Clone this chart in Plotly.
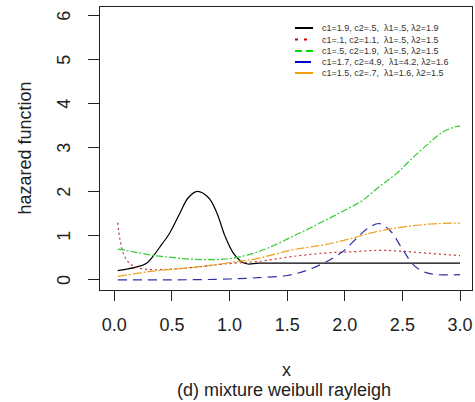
import plotly.graph_objects as go

# ---- data: hazard function of the mixture Weibull-Rayleigh model ----
x_black = [0.03, 0.1, 0.19, 0.28, 0.34, 0.41, 0.48, 0.57, 0.64, 0.72, 0.82, 0.89,
           0.96, 1.03, 1.1, 1.16, 1.25, 1.5, 2.0, 2.5, 3.0]
y_black = [0.21, 0.24, 0.29, 0.38, 0.55, 0.8, 1.06, 1.52, 1.86, 2.01, 1.86, 1.52,
           1.0, 0.62, 0.42, 0.36, 0.38, 0.38, 0.38, 0.38, 0.38]

x_red = [0.03, 0.05, 0.09, 0.16, 0.28, 0.48, 0.71, 0.95, 1.25, 1.54, 1.83, 2.07,
         2.3, 2.5, 2.75, 3.0]
y_red = [1.3, 0.91, 0.53, 0.32, 0.24, 0.24, 0.29, 0.36, 0.42, 0.53, 0.61, 0.64,
         0.67, 0.65, 0.6, 0.55]

x_green = [0.03, 0.1, 0.2, 0.35, 0.5, 0.65, 0.8, 0.95, 1.1, 1.25, 1.4, 1.55, 1.7,
           1.85, 2.0, 2.15, 2.3, 2.45, 2.6, 2.75, 2.85, 2.95, 3.0]
y_green = [0.7, 0.67, 0.62, 0.55, 0.51, 0.47, 0.46, 0.47, 0.53, 0.64, 0.8, 0.99, 1.18,
           1.38, 1.58, 1.8, 2.12, 2.42, 2.8, 3.15, 3.36, 3.47, 3.5]

x_blue = [0.03, 0.5, 1.0, 1.25, 1.5, 1.65, 1.8, 1.9, 2.0, 2.1, 2.2, 2.3, 2.4, 2.5,
          2.6, 2.7, 2.8, 3.0]
y_blue = [0.0, 0.0, 0.02, 0.05, 0.1, 0.2, 0.36, 0.5, 0.68, 0.94, 1.17, 1.28, 1.1, 0.7,
          0.33, 0.17, 0.12, 0.12]

x_orange = [0.03, 0.34, 0.71, 1.08, 1.25, 1.54, 1.83, 2.07, 2.25, 2.5, 2.75, 3.0]
y_orange = [0.08, 0.2, 0.29, 0.42, 0.49, 0.68, 0.8, 0.95, 1.08, 1.2, 1.27, 1.29]

legend_labels = [
    "c1=1.9, c2=.5,  λ1=.5, λ2=1.9",
    "c1=.1, c2=1.1,  λ1=.5, λ2=1.5",
    "c1=.5, c2=1.9,  λ1=.5, λ2=1.5",
    "c1=1.7, c2=4.9,  λ1=4.2, λ2=1.6",
    "c1=1.5, c2=.7,  λ1=1.6, λ2=1.5",
]

x_ticks = [0.0, 0.5, 1.0, 1.5, 2.0, 2.5, 3.0]
x_tick_text = ["0.0", "0.5", "1.0", "1.5", "2.0", "2.5", "3.0"]
y_ticks = [0, 1, 2, 3, 4, 5, 6]
y_tick_text = ["0", "1", "2", "3", "4", "5", "6"]

# ---- styles ----
series = [
    (x_black, y_black, "#000000", "solid"),
    (x_red, y_red, "#c83232", "2px,3px"),
    (x_green, y_green, "#33cc33", "7px,2px,2px,2px"),
    (x_blue, y_blue, "#3030a8", "9px,6px"),
    (x_orange, y_orange, "#eea020", "9px,2px,2px,2px"),
]
legend_dash = ["solid", "3px,6px", "7px,4px", "16px,4px", "solid"]
legend_color = ["#000000", "#cc0000", "#00dd00", "#0000cc", "#f0a000"]

FONT = "Liberation Sans, Arial, sans-serif"
TXT = "#222222"

fig = go.Figure()
for (xs, ys, col, dash), name in zip(series, legend_labels):
    fig.add_trace(go.Scatter(
        x=xs, y=ys, mode="lines", name=name,
        line=dict(color=col, width=1.2, dash=dash, shape="spline", smoothing=1.0),
        showlegend=False,
    ))

# plotting region in pixels
L, R, T, B = 100, 472, 7, 290
pw, ph = R - L, B - T

# legend at the top right of the plotting region, no frame
row_px = [28, 39.5, 51, 62, 73]
shapes = []
annotations = []
for lab, py, dash, col in zip(legend_labels, row_px, legend_dash, legend_color):
    yp = (B - py) / ph
    shapes.append(dict(type="line", xref="paper", yref="paper",
                       x0=(295 - L) / pw, x1=(313 - L) / pw, y0=yp, y1=yp,
                       line=dict(color=col, width=2, dash=dash)))
    annotations.append(dict(xref="paper", yref="paper", x=(320 - L) / pw, y=yp,
                            xanchor="left", yanchor="middle", showarrow=False,
                            text=lab, font=dict(family=FONT, size=9, color="#333333")))

# y tick labels written parallel to the axis
for v, t in zip(y_ticks, y_tick_text):
    annotations.append(dict(xref="paper", yref="y", x=(64 - L) / pw, y=v,
                            xanchor="center", yanchor="middle", showarrow=False,
                            text=t, textangle=-90,
                            font=dict(family=FONT, size=18, color=TXT)))

# axis titles
annotations.append(dict(xref="paper", yref="paper", x=(286 - L) / pw, y=-(370 - B) / ph,
                        xanchor="center", yanchor="middle", showarrow=False, text="x",
                        font=dict(family=FONT, size=18, color=TXT)))
annotations.append(dict(xref="paper", yref="paper", x=(284 - L) / pw, y=-(390 - B) / ph,
                        xanchor="center", yanchor="middle", showarrow=False,
                        text="(d) mixture weibull rayleigh",
                        font=dict(family=FONT, size=18, color=TXT)))
annotations.append(dict(xref="paper", yref="paper", x=(24 - L) / pw, y=0.5,
                        xanchor="center", yanchor="middle", showarrow=False,
                        text="hazared function", textangle=-90,
                        font=dict(family=FONT, size=18, color=TXT)))

fig.update_layout(
    width=475, height=402,
    margin=dict(l=L, r=475 - R, t=T, b=402 - B),
    paper_bgcolor="white", plot_bgcolor="white",
    font=dict(family=FONT, size=18, color=TXT),
    shapes=shapes, annotations=annotations,
    showlegend=False,
)
fig.update_xaxes(
    range=[-0.124, 3.104], showgrid=False, zeroline=False,
    showline=True, mirror=True, linecolor=TXT, linewidth=1,
    ticks="outside", ticklen=10, tickcolor=TXT, tickwidth=1,
    tickvals=x_ticks, ticktext=x_tick_text, ticklabelstandoff=8,
)
fig.update_yaxes(
    range=[-0.23, 6.2], showgrid=False, zeroline=False,
    showline=True, mirror=True, linecolor=TXT, linewidth=1,
    ticks="outside", ticklen=11, tickcolor=TXT, tickwidth=1,
    tickvals=y_ticks, showticklabels=False,
)

fig.write_html("out.html")
